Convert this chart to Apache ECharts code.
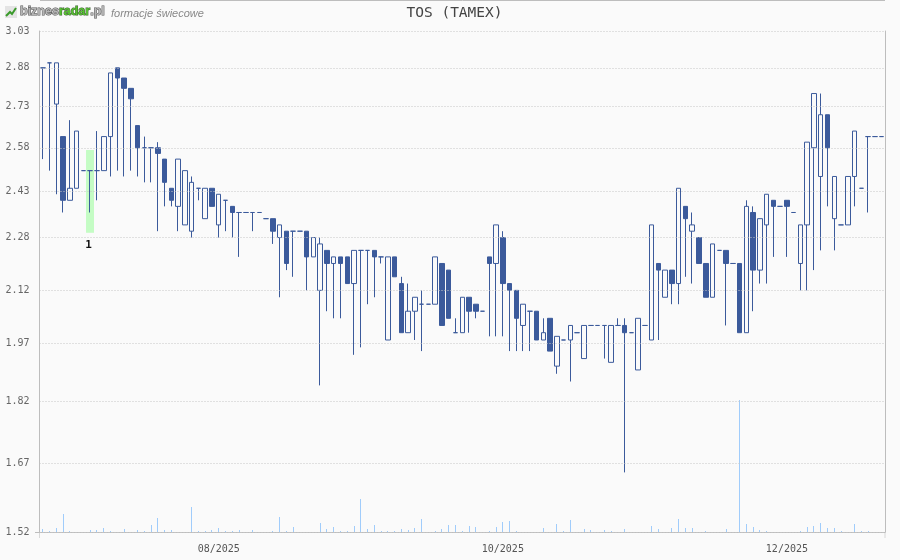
<!DOCTYPE html>
<html><head><meta charset="utf-8">
<style>html,body{margin:0;padding:0;background:#fafafa}#c{width:900px;height:560px}</style>
<script src="https://cdn.jsdelivr.net/npm/echarts@6/dist/echarts.min.js"></script>
</head><body><div id="c"></div>
<script>
// [open, close, low, high]
const candles = [
[2.88,2.88,2.54,2.88],[2.90,2.90,2.50,2.90],[2.74,2.90,2.42,2.90],[2.62,2.40,2.36,2.62],[2.40,2.44,2.40,2.68],
[2.44,2.64,2.44,2.64],[2.50,2.50,2.50,2.50],[2.50,2.50,2.36,2.50],[2.50,2.50,2.40,2.64],[2.50,2.62,2.50,2.62],
[2.62,2.86,2.48,2.86],[2.88,2.84,2.50,2.88],[2.84,2.80,2.48,2.84],[2.80,2.76,2.50,2.80],[2.66,2.58,2.48,2.66],
[2.58,2.58,2.46,2.62],[2.58,2.58,2.46,2.58],[2.58,2.56,2.30,2.60],[2.54,2.46,2.38,2.54],[2.44,2.40,2.38,2.44],
[2.38,2.54,2.30,2.54],[2.32,2.50,2.32,2.50],[2.30,2.46,2.28,2.48],[2.44,2.44,2.40,2.44],[2.34,2.44,2.34,2.44],
[2.44,2.38,2.38,2.44],[2.32,2.42,2.28,2.42],[2.40,2.40,2.30,2.40],[2.38,2.36,2.28,2.38],[2.36,2.36,2.22,2.36],
[2.36,2.36,2.36,2.36],[2.36,2.36,2.30,2.36],[2.36,2.36,2.36,2.36],[2.34,2.34,2.34,2.34],[2.34,2.30,2.26,2.34],
[2.28,2.32,2.10,2.32],[2.30,2.20,2.18,2.30],[2.30,2.30,2.16,2.30],[2.30,2.30,2.30,2.30],[2.30,2.22,2.12,2.30],
[2.22,2.28,2.22,2.28],[2.12,2.26,1.86,2.28],[2.24,2.20,2.06,2.24],[2.20,2.22,2.04,2.22],[2.22,2.20,2.04,2.22],
[2.22,2.14,2.14,2.22],[2.14,2.24,1.94,2.24],[2.24,2.24,1.96,2.24],[2.24,2.24,2.08,2.24],[2.24,2.22,2.10,2.24],
[2.22,2.22,2.20,2.22],[1.98,2.22,1.98,2.22],[2.22,2.16,2.16,2.22],[2.14,2.00,2.00,2.16],[2.00,2.06,2.00,2.14],
[2.06,2.10,1.98,2.10],[2.08,2.08,1.95,2.12],[2.08,2.08,2.08,2.08],[2.08,2.22,2.08,2.22],[2.20,2.02,2.02,2.20],
[2.18,2.04,2.04,2.18],[2.00,2.00,2.00,2.04],[2.00,2.10,2.00,2.10],[2.10,2.06,2.00,2.10],[2.08,2.06,2.04,2.08],
[2.06,2.06,2.06,2.06],[2.22,2.20,1.99,2.22],[2.20,2.32,1.99,2.32],[2.28,2.14,1.99,2.30],[2.14,2.12,1.95,2.14],
[2.12,2.04,1.95,2.12],[2.02,2.08,1.95,2.08],[2.06,2.06,1.95,2.06],[2.06,1.98,1.98,2.06],[1.98,2.00,1.98,2.04],
[2.04,1.95,1.95,2.04],[1.91,1.99,1.89,1.99],[1.98,1.98,1.98,1.98],[1.98,2.02,1.87,2.02],[2.00,2.00,2.00,2.00],
[1.93,2.02,1.93,2.02],[2.02,2.02,2.02,2.02],[2.02,2.02,2.02,2.02],[2.02,2.02,1.93,2.02],[1.92,2.02,1.92,2.02],
[2.02,2.02,2.02,2.04],[2.02,2.00,1.65,2.04],[2.00,2.00,2.00,2.00],[1.90,2.04,1.90,2.04],[2.02,2.02,2.02,2.02],
[1.98,2.32,1.98,2.32],[2.20,2.18,1.98,2.20],[2.10,2.18,2.10,2.18],[2.18,2.14,2.08,2.18],[2.14,2.44,2.08,2.44],
[2.38,2.34,2.16,2.38],[2.30,2.32,2.14,2.36],[2.28,2.20,2.20,2.28],[2.20,2.10,2.10,2.20],[2.10,2.26,2.10,2.26],
[2.24,2.24,2.24,2.24],[2.24,2.20,2.02,2.24],[2.20,2.20,2.20,2.20],[2.20,2.00,2.00,2.20],[2.00,2.38,2.00,2.40],
[2.36,2.18,2.06,2.38],[2.18,2.34,2.14,2.34],[2.32,2.42,2.14,2.42],[2.40,2.38,2.22,2.40],[2.38,2.38,2.38,2.38],
[2.40,2.38,2.22,2.40],[2.36,2.36,2.36,2.36],[2.20,2.32,2.12,2.32],[2.32,2.60,2.12,2.60],[2.58,2.78,2.18,2.78],
[2.48,2.70,2.24,2.78],[2.70,2.58,2.38,2.70],[2.34,2.48,2.24,2.48],[2.32,2.32,2.32,2.32],[2.32,2.48,2.32,2.48],
[2.48,2.64,2.38,2.64],[2.44,2.44,2.44,2.44],[2.62,2.62,2.36,2.62],[2.62,2.62,2.62,2.62],[2.62,2.62,2.62,2.62]
];
// volume, thousands of shares
const volumes = [
3.3,1,4.3,18.3,1,0,0,2,2,4.3,1,0,3,0,2,1,7.3,14.3,2,2,0,0,25.3,1,1,2,4.3,1,1,2,0,2,0,0,1,15.3,1,5.3,0,0,0,9.3,3,5,1,1,6.3,33.3,3,7.3,
1,1,1,3,2,4.3,13.3,0,1,3,7.3,7.3,1,6.3,5.3,0,1,5.3,10.3,11.3,1,0,0,0,4.3,0,8.3,1,12.3,0,3,2,0,2,1,0,3,0,0,0,6.3,3,0,4.3,13.3,4.3,4.3,0,1,0,
0,3,0,132,8.3,5.3,2,1,0,0,0,0,1,5.3,6.3,9.3,4.3,4.3,1,0,8.3,1,1,0,0
];
const monthLabels = {26:'08/2025',68:'10/2025',110:'12/2025'};
const yTicks = [1.52,1.67,1.82,1.97,2.12,2.28,2.43,2.58,2.73,2.88,3.03];
const patternIndex = 7;
const patternRange = [2.295,2.572];
const patternNo = '1';

const categories = candles.map((_,i)=>monthLabels[i]||'');
const MONO = '"DejaVu Sans Mono","Liberation Mono",monospace';
const BLUE = '#3b5a9b', AXIS = '#bdbdbd';

const chart = echarts.init(document.getElementById('c'),null,{renderer:'canvas'});
chart.setOption({
  animation:false,
  backgroundColor:'#fafafa',
  title:{text:'TOS (TAMEX)',left:449.5,textAlign:'center',top:1,textStyle:{fontFamily:MONO,fontSize:14.5,fontWeight:'normal',color:'#444'}},
  grid:{left:39.5,right:15,top:31,bottom:28,containLabel:false},
  xAxis:{type:'category',data:categories,boundaryGap:true,
    axisLine:{show:true,lineStyle:{color:AXIS,width:1},onZero:false},axisTick:{show:false},splitLine:{show:false},
    axisLabel:{interval:0,margin:12,fontFamily:MONO,fontSize:10,color:'#555',hideOverlap:false}},
  yAxis:[
    {type:'log',logBase:Math.E,min:1.52,max:3.03,z:3,
     axisLine:{show:true,lineStyle:{color:AXIS,width:1}},
     axisTick:{show:false,customValues:yTicks},
     minorTick:{show:false},minorSplitLine:{show:false},
     splitLine:{show:true,lineStyle:{color:'#c6c6c6',type:[1,2],width:1}},
     axisLabel:{customValues:yTicks,margin:10,padding:[2,0,0,0],fontFamily:MONO,fontSize:10,color:'#666',formatter:v=>Number(v).toFixed(2)}},
    {type:'value',min:0,max:501,show:true,position:'right',
     axisLine:{show:true,lineStyle:{color:AXIS,width:1}},axisTick:{show:false},axisLabel:{show:false},splitLine:{show:false}}
  ],
  series:[
    {type:'custom',yAxisIndex:0,z:1,silent:true,clip:false,
     data:[[patternIndex,patternRange[0],patternRange[1]]],
     encode:{x:0,y:[1,2]},
     renderItem:(p,api)=>{
       const a=api.coord([api.value(0),api.value(1)]), b=api.coord([api.value(0),api.value(2)]);
       return {type:'group',children:[
         {type:'rect',shape:{x:a[0]-4.2,y:b[1],width:8,height:a[1]-b[1]},style:{fill:'#c4fcc4'}},
         {type:'text',style:{text:patternNo,x:a[0]-1.7,y:a[1]+12,textAlign:'center',textVerticalAlign:'middle',font:'bold 11px '+MONO,fill:'#111'}}
       ]};
     }},
    {type:'custom',yAxisIndex:1,z:1,silent:true,
     data:volumes.map((v,i)=>[i,v]),encode:{x:0,y:1},
     renderItem:(p,api)=>{
       const v=api.value(1);
       if(!v) return null;
       const t=api.coord([api.value(0),v]), o=api.coord([api.value(0),0]);
       return {type:'rect',shape:{x:Math.floor(t[0]),y:Math.round(t[1]),width:1,height:Math.round(o[1])-Math.round(t[1])},style:{fill:'#a0ccfb'}};
     }},
    {type:'candlestick',yAxisIndex:0,data:candles,barWidth:5,z:2,
     itemStyle:{color:'#fafafa',color0:BLUE,borderColor:BLUE,borderColor0:BLUE,borderColorDoji:BLUE,borderWidth:1}}
  ],
  graphic:[
    {type:'line',shape:{x1:40,y1:0.5,x2:885,y2:0.5},style:{stroke:AXIS,lineWidth:1}},
    {type:'line',shape:{x1:39.5,y1:532,x2:39.5,y2:538},style:{stroke:'#d8d8d8',lineWidth:1}},
    {type:'line',shape:{x1:885,y1:532,x2:885,y2:538},style:{stroke:'#d8d8d8',lineWidth:1}},
    {type:'line',shape:{x1:35,y1:532.5,x2:40,y2:532.5},style:{stroke:AXIS,lineWidth:1}},
    {type:'rect',shape:{x:5,y:6,width:12,height:12},style:{fill:'#e4e4e4'}},
    {type:'polyline',shape:{points:[[6,16],[10,12],[12,14],[16,8]]},style:{stroke:'#3a9a2a',lineWidth:2,fill:null}},
    {type:'text',x:20,y:5,style:{rich:{a:{font:'bold 12.5px "Liberation Sans"',fill:'#b5b5b5',stroke:'#555',lineWidth:1},b:{font:'bold 12.5px "Liberation Sans"',fill:'#55c030',stroke:'#3a5a30',lineWidth:1}},text:'{a|biznes}{b|radar}{a|.pl}'}},
    {type:'text',x:111,y:8,style:{text:'formacje świecowe',font:'italic 11px "Liberation Sans"',fill:'#888'}}
  ]
});
</script></body></html>
